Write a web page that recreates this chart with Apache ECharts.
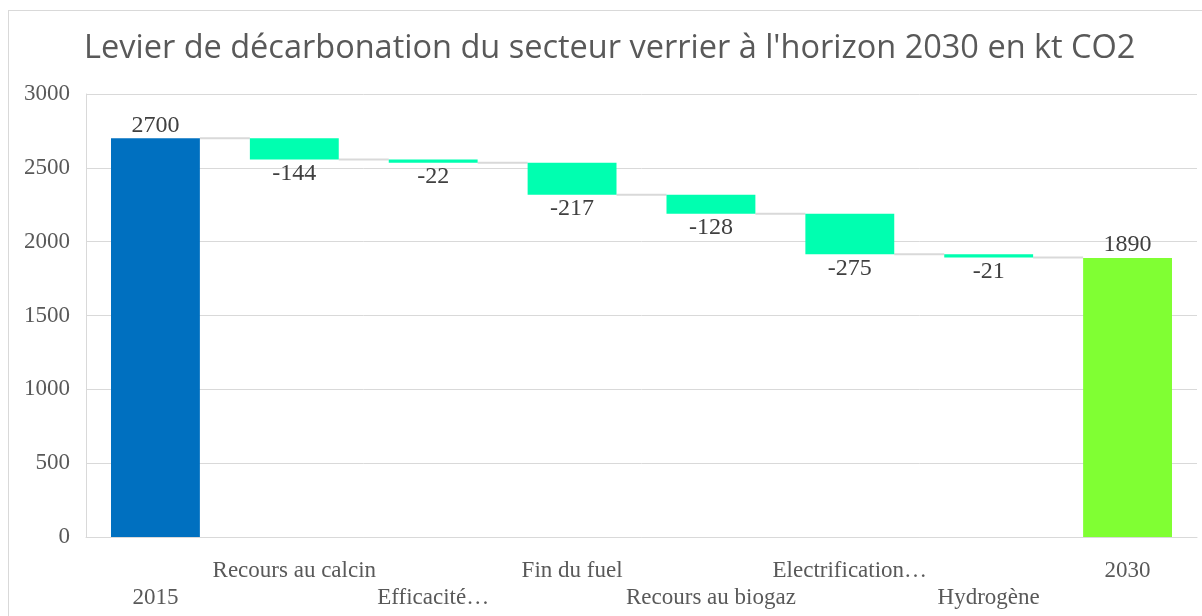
<!DOCTYPE html>
<html>
<head>
<meta charset="utf-8">
<script src="https://cdn.jsdelivr.net/npm/echarts@6/dist/echarts.min.js"></script>
<style>
  html, body { margin: 0; padding: 0; background: #fff; }
  #frame { position: absolute; left: 8px; top: 10px; width: 1300px; height: 700px; border: 1px solid #d9d9d9; }
  #chart { position: absolute; left: 0; top: 0; width: 1202px; height: 616px; }
</style>
</head>
<body>
<div id="frame"></div>
<div id="chart"></div>
<script>
// Données du graphique
const categories = ['2015', 'Recours au calcin', 'Efficacité…', 'Fin du fuel', 'Recours au biogaz', 'Electrification…', 'Hydrogène', '2030'];
const values = [2700, -144, -22, -217, -128, -275, -21, 1890];
const isTotal = [true, false, false, false, false, false, false, true];
const yTicks = [0, 500, 1000, 1500, 2000, 2500, 3000];

const colorStart = '#0070C0';
const colorDelta = '#00FFB0';
const colorEnd = '#80FF33';

// Base invisible + hauteur visible de chaque barre
let running = 0;
const baseData = [];
const barData = [];
const levels = [];
values.forEach((v, i) => {
    if (isTotal[i]) {
        running = v;
        baseData.push(0);
        barData.push({ value: v, itemStyle: { color: i === 0 ? colorStart : colorEnd },
            label: { position: 'top', distance: 1 } });
    } else {
        running += v;
        baseData.push(running);
        barData.push({ value: -v, itemStyle: { color: colorDelta },
            label: { position: 'bottom', distance: 2 } });
    }
    levels.push(running);
});

// Lignes de liaison entre les barres
const connectorData = levels.slice(0, -1).map((lv, i) => [i, lv]);

var chart = echarts.init(document.getElementById('chart'));

var option = {
    animation: false,
    title: {
        text: "Levier de décarbonation du secteur verrier à l'horizon 2030 en kt CO2",
        left: 79,
        top: 27,
        textStyle: { fontFamily: 'Open Sans', fontWeight: 'normal', fontSize: 32.5, color: '#595959' }
    },
    grid: { left: 86, right: 5, top: 94, bottom: 79 },
    xAxis: {
        type: 'category',
        data: categories,
        axisLine: { lineStyle: { color: '#d9d9d9' } },
        axisTick: { show: false },
        axisLabel: {
            interval: 0,
            fontFamily: 'Liberation Serif',
            fontSize: 23,
            color: '#595959',
            lineHeight: 27,
            margin: 20,
            formatter: function (v, i) { return i % 2 === 0 ? '\n' + v : v; }
        }
    },
    yAxis: {
        type: 'value',
        min: 0,
        max: 3000,
        interval: 500,
        axisLine: { show: true, lineStyle: { color: '#d9d9d9' } },
        splitLine: { lineStyle: { color: '#d9d9d9' } },
        axisLabel: {
            fontFamily: 'Liberation Serif',
            fontSize: 23,
            color: '#595959',
            margin: 16,
            customValues: yTicks,
            formatter: function (v) { return String(v); }
        }
    },
    series: [
        {
            type: 'bar',
            stack: 'w',
            data: baseData,
            itemStyle: { color: 'transparent' },
            barCategoryGap: '36%',
            silent: true
        },
        {
            type: 'bar',
            stack: 'w',
            data: barData,
            barCategoryGap: '36%',
            label: {
                show: true,
                fontFamily: 'Liberation Serif',
                fontSize: 24,
                color: '#404040',
                formatter: function (p) { return values[p.dataIndex]; }
            }
        },
        {
            type: 'custom',
            data: connectorData,
            encode: { x: 0, y: 1 },
            z: 1,
            silent: true,
            renderItem: function (params, api) {
                const i = api.value(0);
                const lv = api.value(1);
                const band = api.size([1, 0])[0];
                const half = band * 0.64 / 2;
                const p1 = api.coord([i, lv]);
                const p2 = api.coord([i + 1, lv]);
                return {
                    type: 'line',
                    shape: { x1: p1[0] + half, y1: p1[1], x2: p2[0] - half, y2: p2[1] },
                    style: { stroke: '#d9d9d9', lineWidth: 2 }
                };
            }
        }
    ]
};

chart.setOption(option);

window.addEventListener('resize', function () {
    chart.resize();
});
</script>
</body>
</html>
